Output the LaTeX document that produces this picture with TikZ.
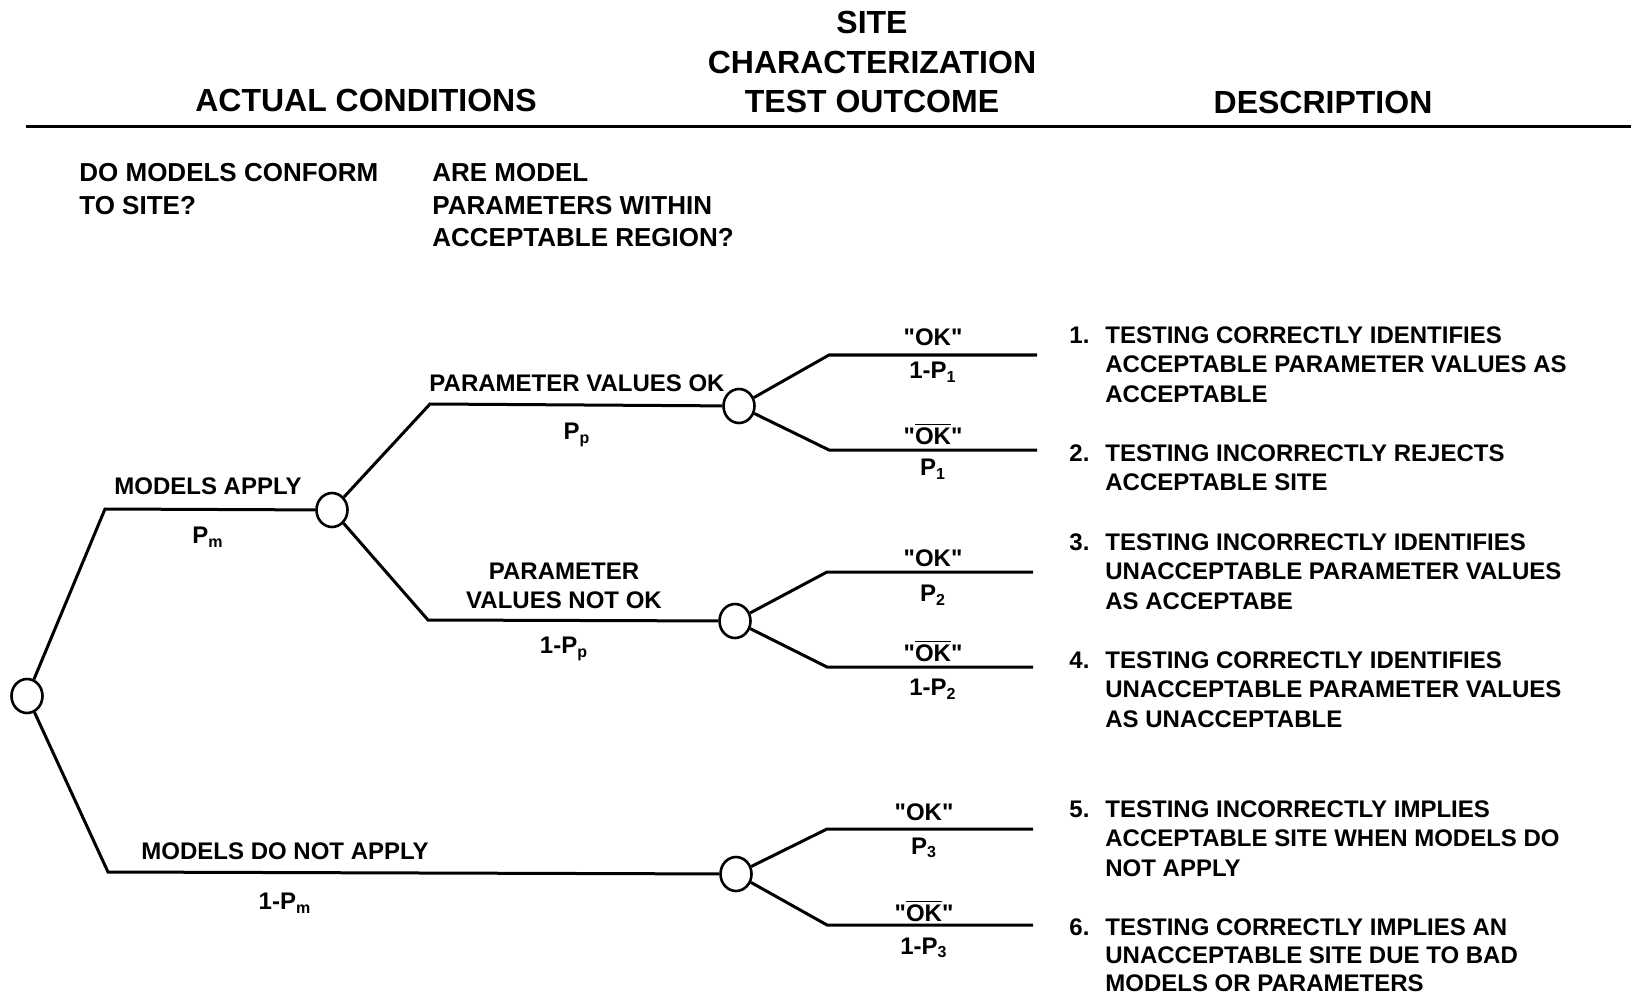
\documentclass[tikz,border=0pt]{standalone}
\usepackage{fontspec}
\setmainfont{Liberation Sans}[Ligatures=TeXOff]
\usetikzlibrary{positioning}
\usetikzlibrary{shapes.geometric}
\tikzset{
  chance/.style   = { ellipse, draw=black, line width=1.3pt, minimum width=15.5pt, minimum height=17pt, inner sep=0pt },
  branch/.style   = { line width=1.5pt },
  lbl/.style      = { inner sep=0pt, align=center, font=\fontsize{12}{14.4}\selectfont\bfseries },
  head/.style     = { inner sep=0pt, align=center, font=\fontsize{16}{19.75}\selectfont\bfseries },
  question/.style = { inner sep=0pt, anchor=north west, align=left, font=\fontsize{13}{16.25}\selectfont\bfseries },
  desc/.style     = { inner sep=0pt, anchor=north west, font=\fontsize{12}{14.75}\selectfont\bfseries }
}
\newcommand{\notok}{"$\overline{\mbox{OK}}$"}

\begin{document}
\begin{tikzpicture}[x=0.5pt,y=-0.5pt]
  \useasboundingbox (0,0) rectangle (1631,994);

  % column headings
  \node (hact)  [head] at (366,100)  {ACTUAL CONDITIONS};
  \node (hsite) [head] at (872,62)   {SITE\\CHARACTERIZATION\\TEST OUTCOME};
  \node (hdesc) [head] at (1323,102) {DESCRIPTION};
  \draw [branch] (26,127) -- (1631,127);

  \node (qmod) [question] at (79,163)  {DO MODELS CONFORM\\TO SITE?};
  \node (qpar) [question] at (432,163) {ARE MODEL\\PARAMETERS WITHIN\\ACCEPTABLE REGION?};

  % chance nodes
  \node (root) [chance] at (27,696)  {};
  \node (ma)   [chance] at (332,510) {};
  \node (pok)  [chance] at (739,406) {};
  \node (pnok) [chance] at (735,621) {};
  \node (mna)  [chance] at (736,874) {};

  % bends and free ends
  \coordinate (ma-b)   at (105,509);
  \coordinate (mna-b)  at (108,872);
  \coordinate (pok-b)  at (430,404);
  \coordinate (pnok-b) at (428,620);
  \coordinate (o1-b) at (829,355);  \coordinate (o1) at (1037,355);
  \coordinate (o2-b) at (829,450);  \coordinate (o2) at (1037,450);
  \coordinate (o3-b) at (827,572);  \coordinate (o3) at (1033,572);
  \coordinate (o4-b) at (827,667);  \coordinate (o4) at (1033,667);
  \coordinate (o5-b) at (827,829);  \coordinate (o5) at (1033,829);
  \coordinate (o6-b) at (827,925);  \coordinate (o6) at (1033,925);

  \draw [branch] (root) -- (ma-b)   -- (ma);
  \draw [branch] (root) -- (mna-b)  -- (mna);
  \draw [branch] (ma)   -- (pok-b)  -- (pok);
  \draw [branch] (ma)   -- (pnok-b) -- (pnok);
  \draw [branch] (pok)  -- (o1-b) -- (o1);
  \draw [branch] (pok)  -- (o2-b) -- (o2);
  \draw [branch] (pnok) -- (o3-b) -- (o3);
  \draw [branch] (pnok) -- (o4-b) -- (o4);
  \draw [branch] (mna)  -- (o5-b) -- (o5);
  \draw [branch] (mna)  -- (o6-b) -- (o6);

  % branch labels
  \node (l-ma)    [lbl] at (208,486) {MODELS APPLY};
  \node (p-ma)    [lbl] at (208,537) {P\textsubscript{m}};
  \node (l-pok)   [lbl] at (577,383) {PARAMETER VALUES OK};
  \node (p-pok)   [lbl] at (577,435) {P\textsubscript{p}};
  \node (l-pnok)  [lbl] at (564,586) {PARAMETER\\VALUES NOT OK};
  \node (p-pnok)  [lbl] at (564,649) {1-P\textsubscript{p}};
  \node (l-mna)   [lbl] at (285,851) {MODELS DO NOT APPLY};
  \node (p-mna)   [lbl] at (285,903) {1-P\textsubscript{m}};

  % test outcomes
  \node (l-o1) [lbl] at (933,337) {"OK"};
  \node (p-o1) [lbl] at (933,372) {1-P\textsubscript{1}};
  \node (l-o2) [lbl] at (933,434) {\notok};
  \node (p-o2) [lbl] at (933,469) {P\textsubscript{1}};
  \node (l-o3) [lbl] at (933,558) {"OK"};
  \node (p-o3) [lbl] at (933,595) {P\textsubscript{2}};
  \node (l-o4) [lbl] at (933,651) {\notok};
  \node (p-o4) [lbl] at (933,689) {1-P\textsubscript{2}};
  \node (l-o5) [lbl] at (924,812) {"OK"};
  \node (p-o5) [lbl] at (924,848) {P\textsubscript{3}};
  \node (l-o6) [lbl] at (924,911) {\notok};
  \node (p-o6) [lbl] at (924,948) {1-P\textsubscript{3}};

  % descriptions
  \node (d1) [desc] at (1069,322) {\begin{tabular}{@{}p{18pt}@{}l@{}}
    1. & TESTING CORRECTLY IDENTIFIES\\ & ACCEPTABLE PARAMETER VALUES AS\\ & ACCEPTABLE\end{tabular}};
  \node (d2) [desc] at (1069,440) {\begin{tabular}{@{}p{18pt}@{}l@{}}
    2. & TESTING INCORRECTLY REJECTS\\ & ACCEPTABLE SITE\end{tabular}};
  \node (d3) [desc] at (1069,529) {\begin{tabular}{@{}p{18pt}@{}l@{}}
    3. & TESTING INCORRECTLY IDENTIFIES\\ & UNACCEPTABLE PARAMETER VALUES\\ & AS ACCEPTABE\end{tabular}};
  \node (d4) [desc] at (1069,647) {\begin{tabular}{@{}p{18pt}@{}l@{}}
    4. & TESTING CORRECTLY IDENTIFIES\\ & UNACCEPTABLE PARAMETER VALUES\\ & AS UNACCEPTABLE\end{tabular}};
  \node (d5) [desc] at (1069,796) {\begin{tabular}{@{}p{18pt}@{}l@{}}
    5. & TESTING INCORRECTLY IMPLIES\\ & ACCEPTABLE SITE WHEN MODELS DO\\ & NOT APPLY\end{tabular}};
  \node (d6) [desc, font=\fontsize{12}{13.9}\selectfont\bfseries] at (1069,916) {\begin{tabular}{@{}p{18pt}@{}l@{}}
    6. & TESTING CORRECTLY IMPLIES AN\\ & UNACCEPTABLE SITE DUE TO BAD\\ & MODELS OR PARAMETERS\end{tabular}};

\end{tikzpicture}
\end{document}
